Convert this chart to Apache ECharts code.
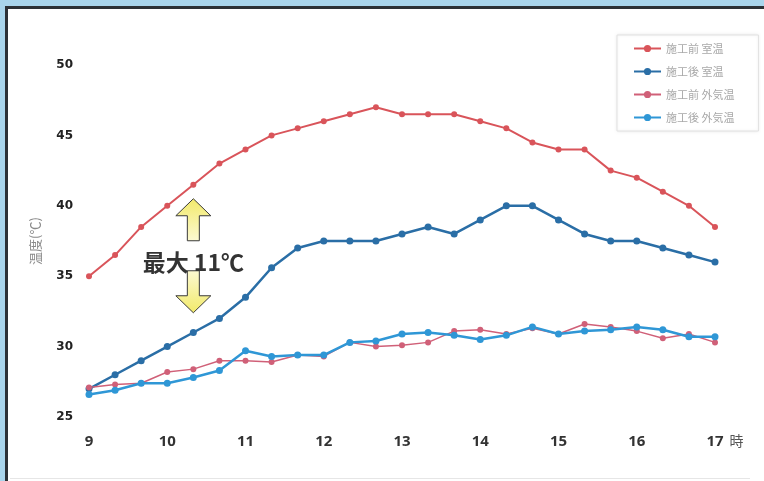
<!DOCTYPE html>
<html>
<head>
<meta charset="utf-8">
<script src="https://cdn.jsdelivr.net/npm/echarts@6/dist/echarts.min.js"></script>
<style>
  html, body { margin: 0; padding: 0; background: #fff; }
  #chart { width: 764px; height: 481px; }
</style>
</head>
<body>
<div id="chart"></div>
<script>
// Sampling times, every 20 minutes from 9:00 to 17:00
const times = ['9:00','9:20','9:40','10:00','10:20','10:40','11:00','11:20','11:40',
  '12:00','12:20','12:40','13:00','13:20','13:40','14:00','14:20','14:40',
  '15:00','15:20','15:40','16:00','16:20','16:40','17:00'];

const seriesNames = ['施工前 室温', '施工後 室温', '施工前 外気温', '施工後 外気温'];

// Room temperature before the work (°C)
const roomBefore = [35.0, 36.5, 38.5, 40.0, 41.5, 43.0, 44.0, 45.0, 45.5,
  46.0, 46.5, 47.0, 46.5, 46.5, 46.5, 46.0, 45.5, 44.5,
  44.0, 44.0, 42.5, 42.0, 41.0, 40.0, 38.5];
// Room temperature after the work (°C)
const roomAfter = [27.0, 28.0, 29.0, 30.0, 31.0, 32.0, 33.5, 35.6, 37.0,
  37.5, 37.5, 37.5, 38.0, 38.5, 38.0, 39.0, 40.0, 40.0,
  39.0, 38.0, 37.5, 37.5, 37.0, 36.5, 36.0];
// Outdoor temperature before the work (°C)
const outBefore = [27.1, 27.3, 27.4, 28.2, 28.4, 29.0, 29.0, 28.9, 29.4,
  29.3, 30.3, 30.0, 30.1, 30.3, 31.1, 31.2, 30.9, 31.3,
  30.9, 31.6, 31.4, 31.1, 30.6, 30.9, 30.3];
// Outdoor temperature after the work (°C)
const outAfter = [26.6, 26.9, 27.4, 27.4, 27.8, 28.3, 29.7, 29.3, 29.4,
  29.4, 30.3, 30.4, 30.9, 31.0, 30.8, 30.5, 30.8, 31.4,
  30.9, 31.1, 31.2, 31.4, 31.2, 30.7, 30.7];

const yMin = 25, yMax = 50, yStep = 5;

const chart = echarts.init(document.getElementById('chart'));

const colors = ['#d9545a', '#2a6ea6', '#d06078', '#2f97d6'];

function lineSeries(name, data, color, width, size) {
  return {
    name: name,
    type: 'line',
    data: data,
    symbol: 'circle',
    symbolSize: size,
    itemStyle: { color: color },
    lineStyle: { color: color, width: width },
    emphasis: { disabled: true },
    animation: false
  };
}

chart.setOption({
  animation: false,
  backgroundColor: '#ffffff',
  grid: { left: 89, right: 49, top: 65, bottom: 64 },
  legend: {
    orient: 'vertical',
    left: 617,
    top: 35,
    padding: [8, 24, 8, 16],
    itemWidth: 27,
    itemHeight: 9,
    itemGap: 12,
    backgroundColor: '#ffffff',
    borderColor: '#e2e2e2',
    borderWidth: 1,
    shadowColor: 'rgba(0,0,0,0.08)',
    shadowBlur: 3,
    textStyle: { color: '#a8a8a8', fontSize: 11, fontFamily: 'Noto Sans CJK JP' },
    data: seriesNames
  },
  xAxis: {
    type: 'category',
    data: times,
    boundaryGap: false,
    name: '時',
    nameLocation: 'end',
    nameGap: 10,
    nameTextStyle: { color: '#555', fontSize: 14, fontFamily: 'Noto Sans CJK JP', padding: [17, 0, 0, 0], verticalAlign: 'top' },
    axisLine: { show: false },
    axisTick: { show: false },
    splitLine: { show: false },
    axisLabel: {
      interval: 2,
      margin: 17,
      color: '#333',
      fontSize: 15,
      fontWeight: 'bold',
      fontFamily: 'Open Sans',
      formatter: v => v.split(':')[0]
    }
  },
  yAxis: {
    type: 'value',
    min: yMin,
    max: yMax,
    interval: yStep,
    name: '温度(℃)',
    nameLocation: 'middle',
    nameGap: 47,
    nameTextStyle: { color: '#8a8a8a', fontSize: 13, fontFamily: 'Noto Sans CJK JP' },
    axisLine: { show: false },
    axisTick: { show: false },
    splitLine: { show: false },
    axisLabel: {
      margin: 16,
      color: '#222',
      fontSize: 12,
      fontWeight: 'bold',
      fontFamily: 'DejaVu Sans'
    }
  },
  series: [
    lineSeries(seriesNames[0], roomBefore, colors[0], 2, 6),
    lineSeries(seriesNames[1], roomAfter, colors[1], 2.5, 7),
    lineSeries(seriesNames[2], outBefore, colors[2], 1.5, 6),
    lineSeries(seriesNames[3], outAfter, colors[3], 2.5, 7)
  ]
});

// Annotation: up/down arrows with the maximum difference label, placed at 10:20
const cx = chart.convertToPixel({ xAxisIndex: 0 }, '10:20');
const yTop = chart.convertToPixel({ yAxisIndex: 0 }, 40.5);

function arrowPoints(x, tipY, dir) {
  // dir = -1 points up, 1 points down
  const headLen = 17, headHalf = 17.5, shaftHalf = 6, shaftLen = 25;
  const baseY = tipY - dir * headLen;
  const endY = baseY - dir * shaftLen;
  return [
    [x, tipY],
    [x + headHalf, baseY],
    [x + shaftHalf, baseY],
    [x + shaftHalf, endY],
    [x - shaftHalf, endY],
    [x - shaftHalf, baseY],
    [x - headHalf, baseY]
  ];
}

const upTip = yTop;
const downTip = upTip + 114;

chart.setOption({
  graphic: [
    // frame of the figure
    { type: 'rect', shape: { x: 0, y: 0, width: 764, height: 6 }, style: { fill: '#a9d5ec' }, silent: true },
    { type: 'rect', shape: { x: 0, y: 0, width: 5, height: 481 }, style: { fill: '#a9d5ec' }, silent: true },
    { type: 'rect', shape: { x: 5, y: 6, width: 759, height: 3 }, style: { fill: '#2c3136' }, silent: true },
    { type: 'rect', shape: { x: 5, y: 6, width: 3, height: 475 }, style: { fill: '#2c3136' }, silent: true },
    { type: 'rect', shape: { x: 10, y: 478, width: 740, height: 1 }, style: { fill: '#e6e6e6' }, silent: true },
    {
      type: 'polygon',
      shape: { points: arrowPoints(cx, upTip, -1) },
      style: {
        fill: new echarts.graphic.LinearGradient(0, 0, 0, 1, [
          { offset: 0, color: '#f2ea6a' },
          { offset: 1, color: '#fcf9d2' }
        ]),
        stroke: '#3a3a3a',
        lineWidth: 1
      },
      silent: true
    },
    {
      type: 'polygon',
      shape: { points: arrowPoints(cx, downTip, 1) },
      style: {
        fill: new echarts.graphic.LinearGradient(0, 0, 0, 1, [
          { offset: 0, color: '#fcf9d2' },
          { offset: 1, color: '#f2ea6a' }
        ]),
        stroke: '#3a3a3a',
        lineWidth: 1
      },
      silent: true
    },
    {
      type: 'text',
      x: cx,
      y: upTip + 64,
      style: {
        text: '最大 11℃',
        fill: '#333',
        font: 'bold 23px "Noto Sans CJK JP"',
        align: 'center',
        verticalAlign: 'middle'
      },
      silent: true
    }
  ]
});
</script>
</body>
</html>
